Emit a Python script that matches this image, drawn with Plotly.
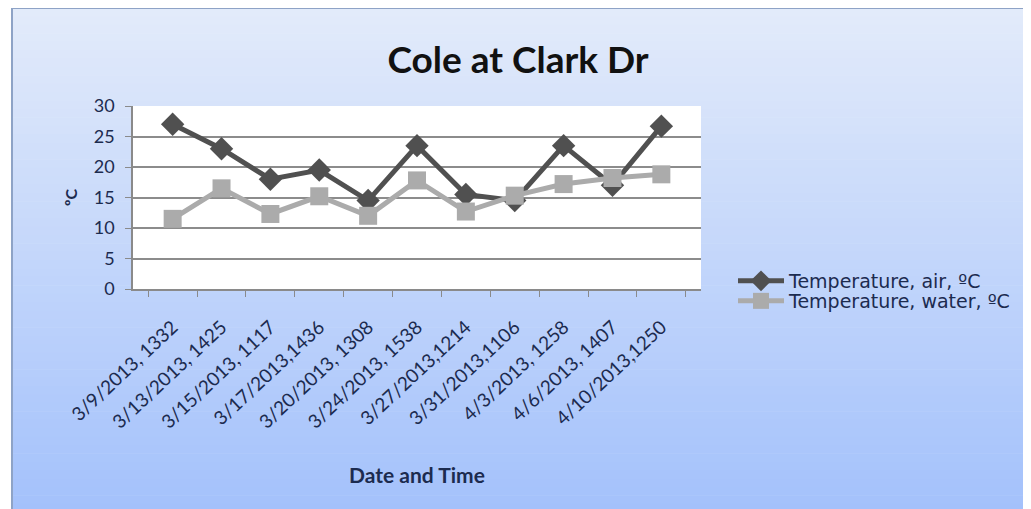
import plotly.graph_objects as go

categories = ["3/9/2013, 1332", "3/13/2013, 1425", "3/15/2013, 1117", "3/17/2013,1436",
              "3/20/2013, 1308", "3/24/2013, 1538", "3/27/2013,1214", "3/31/2013,1106",
              "4/3/2013, 1258", "4/6/2013, 1407", "4/10/2013,1250"]
air_temp = [27, 23, 18, 19.5, 14.5, 23.5, 15.5, 14.5, 23.5, 17, 26.7]
water_temp = [11.5, 16.5, 12.3, 15.2, 12, 17.8, 12.7, 15.3, 17.2, 18.2, 18.8]
y_ticks = [0, 5, 10, 15, 20, 25, 30]

OFF = 8  # page body margin
W, H = 1031 - OFF, 509 - OFF
# plot area in screen pixels
SL, SR, ST, SB = 133, 701, 106, 289
L, R, T, B = SL - OFF, SR - OFF, ST - OFF, SB - OFF
FONT = "Lato"
TXT = "#1c2b4f"

def sx(px):  # screen x -> paper
    return (px - OFF - L) / (R - L)

def sy(py):  # screen y -> paper
    return (B - (py - OFF)) / (B - T)

fig = go.Figure()
fig.add_trace(go.Scatter(x=categories, y=air_temp, mode="lines+markers",
                         name="Temperature, air, ºC", legend="legend",
                         line=dict(color="#505050", width=5),
                         marker=dict(symbol="diamond", size=18, color="#505050")))
fig.add_trace(go.Scatter(x=categories, y=water_temp, mode="lines+markers",
                         name="Temperature, water, ºC", legend="legend2",
                         line=dict(color="#ababab", width=5),
                         marker=dict(symbol="square", size=18, color="#ababab")))

# gradient frame background
shapes = []
top_c = (227, 235, 250)
bot_c = (163, 193, 251)
y0, y1 = 8, 512
n = 60
for i in range(n):
    a = y0 + (y1 - y0) * i / n
    b = y0 + (y1 - y0) * (i + 1) / n
    f = (i + 0.5) / n
    c = tuple(round(top_c[k] + (bot_c[k] - top_c[k]) * f) for k in range(3))
    shapes.append(dict(type="rect", xref="paper", yref="paper", layer="below",
                       x0=sx(12), x1=sx(1026),
                       y0=sy(b + 0.6), y1=sy(a),
                       line=dict(width=0), fillcolor="rgb(%d,%d,%d)" % c))
# frame border
border = "#8ea3c6"
shapes.append(dict(type="line", xref="paper", yref="paper", layer="below",
                   x0=sx(12), x1=sx(1026), y0=sy(8), y1=sy(8),
                   line=dict(color=border, width=2)))
shapes.append(dict(type="line", xref="paper", yref="paper", layer="below",
                   x0=sx(12), x1=sx(12), y0=sy(8), y1=sy(512),
                   line=dict(color=border, width=2)))
shapes.append(dict(type="line", xref="paper", yref="paper", layer="below",
                   x0=sx(1026), x1=sx(1026), y0=sy(8), y1=sy(512),
                   line=dict(color="#b4c6ea", width=1)))
# white plot area
shapes.append(dict(type="rect", xref="paper", yref="paper", layer="below",
                   x0=0, x1=1, y0=0, y1=1, line=dict(width=0), fillcolor="white"))

legend_common = dict(xanchor="left", yanchor="middle", bgcolor="rgba(0,0,0,0)",
                     font=dict(size=19, color=TXT, family="DejaVu Sans"),
                     itemwidth=46, borderwidth=0)

fig.update_layout(
    width=W, height=H,
    margin=dict(l=L, r=W - R, t=T, b=H - B, pad=0),
    paper_bgcolor="white",
    plot_bgcolor="rgba(0,0,0,0)",
    shapes=shapes,
    font=dict(family=FONT, color=TXT),
    title=dict(text="<b>Cole at Clark Dr</b>", x=(518 - OFF) / W, xanchor="center",
               y=1 - (60 - OFF) / H, yanchor="middle", yref="container",
               font=dict(size=37, color="#111111", family=FONT)),
    showlegend=True,
    legend=dict(x=sx(733), y=sy(281), **legend_common),
    legend2=dict(x=sx(733), y=sy(301), **legend_common),
)
fig.update_xaxes(type="category", tickangle=-43, tickson="boundaries",
                 ticks="outside", ticklen=6, tickcolor="#8a8a8a",
                 showline=True, linecolor="#8a8a8a", linewidth=1.5,
                 ticklabelstandoff=18,
                 showgrid=False, tickfont=dict(size=19, color=TXT, family=FONT),
                 title=dict(text="<b>Date and Time</b>", font=dict(size=21, color=TXT, family=FONT),
                            standoff=37))
fig.update_yaxes(range=[0, 30], tickvals=y_ticks, ticks="outside", ticklen=6,
                 tickcolor="#8a8a8a", showline=True, linecolor="#8a8a8a", linewidth=1.5,
                 showgrid=True, gridcolor="#8c8c8c", gridwidth=1.5, zeroline=False,
                 ticklabelstandoff=7,
                 tickfont=dict(size=18, color=TXT, family=FONT),
                 title=dict(text="<b>ºC</b>", font=dict(size=16, color=TXT, family=FONT),
                            standoff=12))

fig.write_html("out.html")
